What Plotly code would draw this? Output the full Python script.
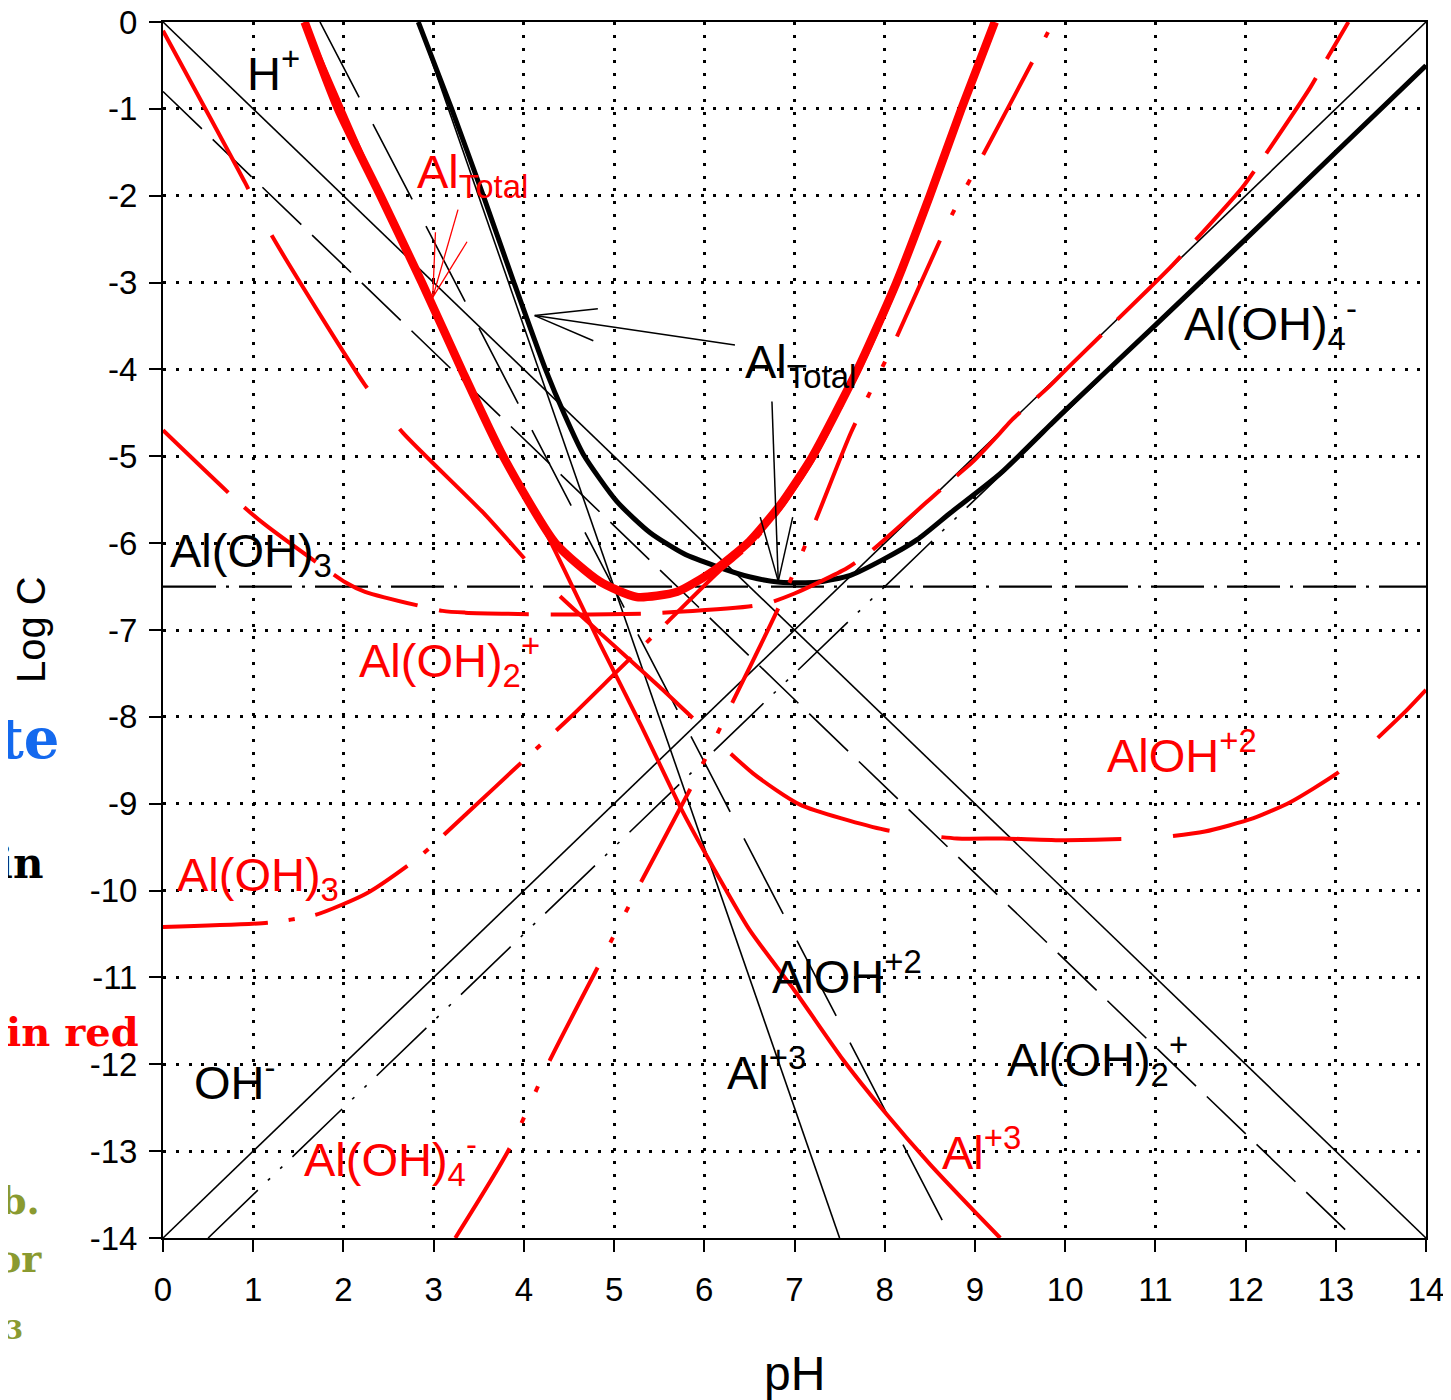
import plotly.graph_objects as go

# ---------------- tick labels ----------------
x_ticks = list(range(0, 15))
x_ticktext = [str(v) for v in x_ticks]
y_ticks = list(range(0, -15, -1))
y_ticktext = ["0", "-1", "-2", "-3", "-4", "-5", "-6", "-7", "-8", "-9", "-10",
              "-11", "-12", "-13", "-14"]

# ---------------- black system ----------------
h_ph = [0, 14];        h_logc = [0, -14]          # H+
oh_ph = [0, 14];       oh_logc = [-14, 0]         # OH-
al3_ph = [2.83, 7.5];  al3_logc = [0, -14]        # Al+3
aloh_ph = [1.74, 8.74]; aloh_logc = [0, -14]      # AlOH+2
aloh2_ph = [0, 13.2];  aloh2_logc = [-0.8, -14]   # Al(OH)2+
aloh3_ph = [0, 14];    aloh3_logc = [-6.5, -6.5]  # Al(OH)3
aloh4_ph = [0.5, 14];  aloh4_logc = [-14, -0.5]   # Al(OH)4-
tot_ph = [2.83, 3.2, 3.55, 3.89, 4.24, 4.45, 4.66, 5.03, 5.4, 5.77, 6.14, 6.51,
          6.84, 7.25, 7.62, 7.98, 8.36, 8.73, 9.28, 10.0, 11.0, 12.0, 13.0, 14.0]
tot_logc = [0, -1, -2, -3, -4, -4.52, -4.98, -5.52, -5.88, -6.12, -6.27, -6.39,
            -6.45, -6.45, -6.37, -6.19, -5.96, -5.65, -5.2, -4.47, -3.49, -2.5,
            -1.5, -0.5]

# ---------------- red system ----------------
r_tot_ph = [1.57, 1.94, 2.41, 2.87, 3.31, 3.77, 4.35, 4.84, 5.25, 5.7, 6.1, 6.5,
            6.85, 7.2, 7.7, 8.13, 8.5, 8.85, 9.22]
r_tot_logc = [0, -1, -2, -3, -4, -5, -6, -6.44, -6.62, -6.56, -6.32, -5.98,
              -5.55, -5.0, -4.0, -3.0, -2.0, -1.0, 0]
r_al3_ph = [1.57, 2.41, 3.31, 3.77, 4.27, 4.84, 5.3, 5.75, 6.0, 6.5, 7.0, 7.54,
            8.0, 8.5, 9.0, 9.28]
r_al3_logc = [0, -2, -4, -5, -5.93, -7.15, -8.1, -9.07, -9.55, -10.45, -11.15,
              -11.95, -12.55, -13.15, -13.7, -14]
r_aloh_ph = [0, 0.91, 1.19, 2.24, 2.66, 3.55, 4.29, 4.84, 5.5, 6.54, 7.06, 8.0,
             8.8, 9.31, 10.0, 11.03, 11.55, 12.08, 12.5, 13.0, 13.27, 13.79, 14.0]
r_aloh_logc = [-0.1, -1.85, -2.43, -4.18, -4.73, -5.65, -6.5, -7.03, -7.65,
               -8.65, -9.01, -9.3, -9.4, -9.4, -9.42, -9.39, -9.32, -9.17,
               -8.98, -8.66, -8.43, -7.92, -7.69]
r_aloh2_ph = [0, 0.85, 1.11, 2.02, 2.24, 3.1, 3.35, 4.26, 5.37, 6.49, 6.71, 7.0,
              7.58, 7.84, 8.7, 8.97, 9.28, 9.41, 9.81, 10.08, 10.94, 11.19,
              11.96, 12.14, 12.72, 12.87, 13.14]
r_aloh2_logc = [-4.7, -5.54, -5.77, -6.45, -6.56, -6.78, -6.8, -6.82, -6.81,
                -6.73, -6.69, -6.58, -6.29, -6.1, -5.31, -5.07, -4.73, -4.58,
                -4.21, -3.93, -3.06, -2.8, -1.91, -1.65, -0.75, -0.48, 0]
r_aloh3_ph = [0, 1.16, 1.69, 2.26, 2.83, 3.37, 4.0, 4.51, 5.03, 5.6, 6.18, 6.5,
              6.85, 7.2, 7.7, 8.13, 8.5, 8.85, 9.2]
r_aloh3_logc = [-10.42, -10.37, -10.28, -10.03, -9.62, -9.11, -8.5, -8.01,
                -7.48, -6.9, -6.31, -6.03, -5.6, -5.05, -4.05, -3.05, -2.05,
                -1.05, -0.05]
r_aloh4_ph = [3.24, 3.83, 4.29, 4.87, 5.29, 5.88, 6.30, 6.82, 7.21, 7.62, 8.1,
              8.74, 9.33, 9.87]
r_aloh4_logc = [-14, -12.99, -11.95, -10.78, -9.92, -8.76, -7.86, -6.75, -5.8,
                -4.74, -3.7, -2.23, -1.06, 0]

# ---------------- label positions (pH, log C) ----------------
black_labels = [
    ("H<sup>+</sup>", 0.91, -0.55),
    ("Al(OH)<sub>3</sub>", 0.05, -6.12),
    ("Al<sub>Total</sub>", 6.43, -3.95),
    ("AlOH<sup>+2</sup>", 6.73, -10.95),
    ("Al<sup>+3</sup>", 6.23, -12.05),
    ("Al(OH)<sub>2</sub><sup>+</sup>", 9.33, -11.95),
    ("OH<sup>-</sup>", 0.32, -12.17),
    ("Al(OH)<sub>4</sub><sup>-</sup>", 11.3, -3.47),
]
red_labels = [
    ("Al<sub>Total</sub>", 2.79, -1.76),
    ("Al(OH)<sub>2</sub><sup>+</sup>", 2.15, -7.35),
    ("AlOH<sup>+2</sup>", 10.44, -8.4),
    ("Al(OH)<sub>3</sub>", 0.13, -9.85),
    ("Al(OH)<sub>4</sub><sup>-</sup>", 1.54, -13.1),
    ("Al<sup>+3</sup>", 8.61, -12.98),
]
# pointer lines: (x0, y0, x1, y1)
black_pointers = [(6.34, -3.72, 4.12, -3.38), (4.12, -3.38, 4.82, -3.30),
                  (4.12, -3.38, 4.77, -3.67), (6.75, -4.37, 6.82, -6.44),
                  (6.82, -6.44, 6.62, -5.70), (6.82, -6.44, 6.98, -5.70)]
red_pointers = [(3.27, -2.16, 2.99, -3.17), (3.02, -2.42, 2.99, -3.17),
                (3.37, -2.53, 2.99, -3.17)]

RED = "#ff0000"
fig = go.Figure()


def add(x, y, color, width, dash="solid", shape="linear"):
    fig.add_trace(go.Scatter(x=x, y=y, mode="lines", hoverinfo="skip",
                             line=dict(color=color, width=width, dash=dash,
                                       shape=shape, smoothing=0.6)))


# black thin lines
add(h_ph, h_logc, "black", 1.6)
add(oh_ph, oh_logc, "black", 1.6)
add(al3_ph, al3_logc, "black", 1.6)
add(aloh_ph, aloh_logc, "black", 1.6, "85px,30px")
add(aloh2_ph, aloh2_logc, "black", 1.6, "54px,15px")
add(aloh3_ph, aloh3_logc, "black", 2.3, "53px,10px,3px,10px")
add(aloh4_ph, aloh4_logc, "black", 1.6, "69px,14px,3px,14px,3px,14px")
add(tot_ph, tot_logc, "black", 5, shape="spline")

# red lines
add(r_al3_ph, r_al3_logc, RED, 4, shape="spline")
add(r_aloh_ph, r_aloh_logc, RED, 4, "180px,52px", shape="spline")
add(r_aloh2_ph, r_aloh2_logc, RED, 4, "90px,22px", shape="spline")
add(r_aloh3_ph, r_aloh3_logc, RED, 4, "105px,21px,6px,21px", shape="spline")
add(r_aloh4_ph, r_aloh4_logc, RED, 4, "105px,28px,6px,28px,6px,28px", shape="spline")
add(r_tot_ph, r_tot_logc, RED, 8.5, shape="spline")

annotations = []
for txt, x, y in black_labels:
    annotations.append(dict(text=txt, x=x, y=y, xref="x", yref="y", showarrow=False,
                            xanchor="left", yanchor="middle",
                            font=dict(size=47, color="black")))
for txt, x, y in red_labels:
    annotations.append(dict(text=txt, x=x, y=y, xref="x", yref="y", showarrow=False,
                            xanchor="left", yanchor="middle",
                            font=dict(size=47, color=RED)))

# plot area in page pixels: x 163..1426, y 22..1238 (page has an 8px body margin)
PW, PH_ = 1263, 1216

# axis titles
annotations.append(dict(text="Log C", x=(31 - 163) / PW, y=0.5, xref="paper",
                        yref="paper", showarrow=False, textangle=-90,
                        xanchor="center", yanchor="middle",
                        font=dict(size=40, color="black")))
annotations.append(dict(text="pH", x=0.5, y=-(1373 - 1238) / PH_, xref="paper",
                        yref="paper", showarrow=False, xanchor="center",
                        yanchor="middle", font=dict(size=48, color="black")))

# cut-off slide text at the left edge (right edge in page px, centre y, size, colour)
side = [("te", 62, 738, 56, "#1469ee"), ("in", 46, 864, 42, "black"),
        ("in red", 141, 1031, 40, RED), ("b.", 42, 1200, 38, "#8a9a30"),
        ("or", 44, 1258, 38, "#8a9a30"), ("3", 25, 1330, 26, "#8a9a30")]
for txt, px, py, fs, col in side:
    annotations.append(dict(text="<b>" + txt + "</b>", x=(px - 163) / PW,
                            y=(1238 - py) / PH_, xref="paper", yref="paper",
                            showarrow=False, xanchor="right", yanchor="middle",
                            font=dict(size=fs, color=col, family="DejaVu Serif")))

shapes = []
for x0, y0, x1, y1 in black_pointers:
    shapes.append(dict(type="line", xref="x", yref="y", x0=x0, y0=y0, x1=x1, y1=y1,
                       line=dict(color="black", width=1.5)))
for x0, y0, x1, y1 in red_pointers:
    shapes.append(dict(type="line", xref="x", yref="y", x0=x0, y0=y0, x1=x1, y1=y1,
                       line=dict(color=RED, width=1.3)))

axis_common = dict(showline=True, linewidth=2, linecolor="black", mirror=True,
                   ticks="outside", ticklen=12, tickwidth=2, tickcolor="black",
                   showgrid=True, gridcolor="black", gridwidth=2.5,
                   griddash="3px,9.8px", zeroline=False, automargin=False,
                   ticklabeloverflow="allow",
                   tickfont=dict(size=33, color="black"))
fig.update_xaxes(range=[0, 14], tickmode="array", tickvals=x_ticks,
                 ticktext=x_ticktext, ticklabelstandoff=9, **axis_common)
fig.update_yaxes(range=[-14, 0], tickmode="array", tickvals=y_ticks,
                 ticktext=y_ticktext, ticklabelstandoff=5, **axis_common)

# figure is offset by the page's 8px body margin, so margins are reduced by 8
fig.update_layout(width=1443, height=1392, autosize=False,
                  margin=dict(l=155, r=25, t=14, b=162),
                  paper_bgcolor="white", plot_bgcolor="white", showlegend=False,
                  font=dict(family="Liberation Sans, Arial, sans-serif"),
                  annotations=annotations, shapes=shapes)

fig.write_html("out.html")
